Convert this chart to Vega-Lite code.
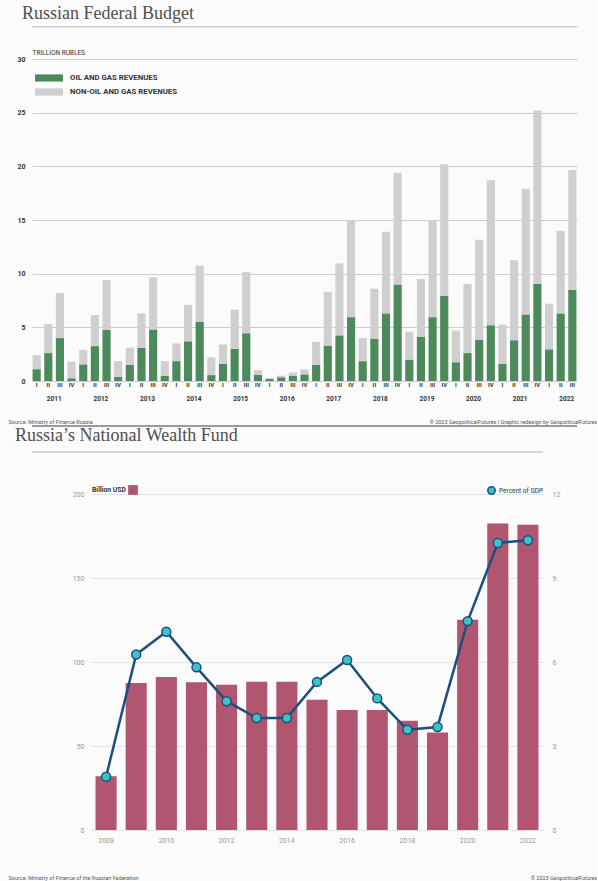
{
  "$schema": "https://vega.github.io/schema/vega-lite/v6.json",
  "background": "#fbfbfb",
  "padding": {"left": 8, "top": 5, "right": 0, "bottom": 0},
  "bounds": "flush",
  "spacing": 113,
  "resolve": {"scale": {"color": "independent", "fill": "independent"}, "legend": {"color": "independent", "fill": "independent"}},
  "config": {
    "view": {"stroke": null},
    "axis": {"labelFont": "Roboto", "titleFont": "Roboto"},
    "legend": {"labelFont": "Roboto", "titleFont": "Roboto"},
    "title": {"font": "Liberation Serif"}
  },
  "vconcat": [
    {
      "width": 545,
      "height": 322,
      "title": {"text": "Russian Federal Budget", "anchor": "start", "frame": "group", "dx": -10, "offset": 3, "fontSize": 18, "fontWeight": "normal", "color": "#4f4f4f"},
      "data": {"values": [
        {"q": "2011-I", "oil": 1.1, "nonoil": 1.3},
        {"q": "2011-II", "oil": 2.6, "nonoil": 2.7},
        {"q": "2011-III", "oil": 4.0, "nonoil": 4.2},
        {"q": "2011-IV", "oil": 0.25, "nonoil": 1.55},
        {"q": "2012-I", "oil": 1.55, "nonoil": 1.35},
        {"q": "2012-II", "oil": 3.25, "nonoil": 2.9},
        {"q": "2012-III", "oil": 4.75, "nonoil": 4.65},
        {"q": "2012-IV", "oil": 0.37, "nonoil": 1.48},
        {"q": "2013-I", "oil": 1.5, "nonoil": 1.6},
        {"q": "2013-II", "oil": 3.1, "nonoil": 3.2},
        {"q": "2013-III", "oil": 4.8, "nonoil": 4.85},
        {"q": "2013-IV", "oil": 0.5, "nonoil": 1.35},
        {"q": "2014-I", "oil": 1.85, "nonoil": 1.65},
        {"q": "2014-II", "oil": 3.7, "nonoil": 3.4},
        {"q": "2014-III", "oil": 5.5, "nonoil": 5.25},
        {"q": "2014-IV", "oil": 0.55, "nonoil": 1.65},
        {"q": "2015-I", "oil": 1.6, "nonoil": 1.8},
        {"q": "2015-II", "oil": 3.0, "nonoil": 3.65},
        {"q": "2015-III", "oil": 4.45, "nonoil": 5.7},
        {"q": "2015-IV", "oil": 0.58, "nonoil": 0.42},
        {"q": "2016-I", "oil": 0.18, "nonoil": 0.1},
        {"q": "2016-II", "oil": 0.35, "nonoil": 0.15},
        {"q": "2016-III", "oil": 0.5, "nonoil": 0.3},
        {"q": "2016-IV", "oil": 0.62, "nonoil": 0.46},
        {"q": "2017-I", "oil": 1.5, "nonoil": 2.15},
        {"q": "2017-II", "oil": 3.3, "nonoil": 5.0},
        {"q": "2017-III", "oil": 4.25, "nonoil": 6.7},
        {"q": "2017-IV", "oil": 5.95, "nonoil": 9.05},
        {"q": "2018-I", "oil": 1.85, "nonoil": 2.15},
        {"q": "2018-II", "oil": 3.95, "nonoil": 4.65},
        {"q": "2018-III", "oil": 6.3, "nonoil": 7.6},
        {"q": "2018-IV", "oil": 9.0, "nonoil": 10.4},
        {"q": "2019-I", "oil": 2.0, "nonoil": 2.6},
        {"q": "2019-II", "oil": 4.1, "nonoil": 5.4},
        {"q": "2019-III", "oil": 5.95, "nonoil": 9.0},
        {"q": "2019-IV", "oil": 7.95, "nonoil": 12.25},
        {"q": "2020-I", "oil": 1.75, "nonoil": 2.95},
        {"q": "2020-II", "oil": 2.6, "nonoil": 6.45},
        {"q": "2020-III", "oil": 3.85, "nonoil": 9.3},
        {"q": "2020-IV", "oil": 5.2, "nonoil": 13.5},
        {"q": "2021-I", "oil": 1.6, "nonoil": 3.65},
        {"q": "2021-II", "oil": 3.8, "nonoil": 7.45},
        {"q": "2021-III", "oil": 6.2, "nonoil": 11.7},
        {"q": "2021-IV", "oil": 9.05, "nonoil": 16.15},
        {"q": "2022-I", "oil": 2.95, "nonoil": 4.25},
        {"q": "2022-II", "oil": 6.3, "nonoil": 7.7},
        {"q": "2022-III", "oil": 8.5, "nonoil": 11.15}
      ]},
      "transform": [{"fold": ["oil", "nonoil"], "as": ["type", "value"]}],
      "layer": [
        {
          "mark": {"type": "bar"},
          "encoding": {
            "x": {
              "field": "q", "type": "nominal", "sort": null,
              "scale": {"paddingInner": 0.3, "paddingOuter": 0.05},
              "axis": {
                "orient": "bottom",
                "title": "Source: Ministry of Finance Russia",
                "labelExpr": "split(datum.value, '-')[1]",
                "labelAngle": 0, "labelFontSize": 6, "labelFontWeight": "bold", "labelColor": "#333333",
                "labelPadding": 0, "labelOverlap": false, "ticks": false, "domain": false, "grid": false,
                "titleX": -24, "titleY": 40, "titleAlign": "left", "titleAnchor": "start", "titleBaseline": "middle",
                "titleFontSize": 5.5, "titleFontWeight": "normal", "titleColor": "#555555"
              }
            },
            "y": {
              "field": "value", "type": "quantitative", "stack": "zero",
              "scale": {"domain": [0, 30], "nice": false},
              "axis": {
                "title": "TRILLION RUBLES", "values": [0, 5, 10, 15, 20, 25, 30],
                "titleAngle": 0, "titleAlign": "left", "titleBaseline": "middle", "titleX": 0, "titleY": -7,
                "titleFontSize": 6.5, "titleFontWeight": "normal", "titleColor": "#333333",
                "labelFontSize": 7, "labelFontWeight": "bold", "labelColor": "#333333", "labelPadding": 7,
                "ticks": false, "domain": false, "grid": true, "gridColor": "#cccccc", "gridWidth": 1
              }
            },
            "color": {
              "field": "type", "type": "nominal",
              "scale": {"domain": ["oil", "nonoil"], "range": ["#4c8a5c", "#cfcfcf"]},
              "legend": {
                "orient": "none", "legendX": 3, "legendY": 15, "title": null, "padding": 0,
                "labelExpr": "datum.value == 'oil' ? 'OIL AND GAS REVENUES' : 'NON-OIL AND GAS REVENUES'",
                "symbolType": "M-1,-0.9H6V0.9H-1Z", "symbolSize": 64, "symbolStrokeWidth": 0,
                "labelOffset": 27, "labelFontSize": 7.8, "labelFontWeight": "bold", "labelColor": "#333333",
                "rowPadding": 6
              }
            },
            "order": {"field": "type", "type": "ordinal", "sort": "descending"}
          }
        },
        {
          "mark": {"type": "rule", "opacity": 0},
          "encoding": {
            "x": {
              "field": "q", "type": "nominal", "sort": null,
              "axis": {
                "orient": "bottom", "offset": 12,
                "labelExpr": "split(datum.value, '-')[1] == 'II' ? split(datum.value, '-')[0] : ''",
                "labelAngle": 0, "labelOffset": 6, "labelPadding": 2, "labelOverlap": false,
                "labelFontSize": 6.5, "labelFontWeight": "bold", "labelColor": "#333333",
                "ticks": false, "domain": false, "grid": false,
                "title": "© 2023 GeopoliticalFutures | Graphic redesign by GeopoliticalFutures",
                "titleX": 565, "titleY": 28, "titleAlign": "right", "titleAnchor": "end", "titleBaseline": "middle",
                "titleFontSize": 5.5, "titleFontWeight": "normal", "titleColor": "#555555"
              }
            }
          }
        },
        {
          "data": {"values": [{}]},
          "mark": {"type": "rule", "color": "#b5b5b5", "strokeWidth": 1},
          "encoding": {"y": {"datum": 33, "type": "quantitative", "scale": {"domain": [0, 30], "nice": false}, "axis": null}}
        },
        {
          "data": {"values": [{}]},
          "mark": {"type": "rule", "color": "#7a7a7a", "strokeWidth": 1.5},
          "encoding": {"y": {"datum": -4.2, "type": "quantitative", "scale": {"domain": [0, 30], "nice": false}, "axis": null}}
        }
      ],
      "resolve": {"scale": {"y": "independent"}, "axis": {"x": "independent"}}
    },
    {
      "resolve": {"scale": {"color": "independent", "fill": "independent"}, "legend": {"color": "independent", "fill": "independent"}},
      "hconcat": [
        {
          "width": 59, "height": 336,
          "data": {"values": [{}]},
          "mark": {"type": "rule", "color": "#b5b5b5", "strokeWidth": 1},
          "encoding": {"y": {"datum": 225, "type": "quantitative", "scale": {"domain": [0, 200], "nice": false}, "axis": null}}
        },
        {
          "width": 452,
          "height": 336,
          "title": {"text": "Russia’s National Wealth Fund", "anchor": "start", "frame": "group", "dx": -76, "offset": 7, "fontSize": 18, "fontWeight": "normal", "color": "#4f4f4f"},
          "data": {"values": [
            {"year": "2008", "usd": 32, "gdp": 1.9},
            {"year": "2009", "usd": 87.5, "gdp": 6.27},
            {"year": "2010", "usd": 91, "gdp": 7.08},
            {"year": "2011", "usd": 88, "gdp": 5.81},
            {"year": "2012", "usd": 86.5, "gdp": 4.6},
            {"year": "2013", "usd": 88.3, "gdp": 4.0},
            {"year": "2014", "usd": 88.3, "gdp": 4.0},
            {"year": "2015", "usd": 77.6, "gdp": 5.29},
            {"year": "2016", "usd": 71.5, "gdp": 6.07},
            {"year": "2017", "usd": 71.5, "gdp": 4.7},
            {"year": "2018", "usd": 65, "gdp": 3.58},
            {"year": "2019", "usd": 58, "gdp": 3.68},
            {"year": "2020", "usd": 125.2, "gdp": 7.46},
            {"year": "2021", "usd": 182.5, "gdp": 10.25},
            {"year": "2022", "usd": 181.7, "gdp": 10.35}
          ]},
          "layer": [
            {
              "mark": {"type": "bar"},
              "encoding": {
                "x": {
                  "field": "year", "type": "ordinal",
                  "scale": {"paddingInner": 0.3, "paddingOuter": 0.15},
                  "axis": {
                    "orient": "bottom",
                    "values": ["2008", "2010", "2012", "2014", "2016", "2018", "2020", "2022"],
                    "labelAngle": 0, "labelFontSize": 7, "labelColor": "#999999", "labelPadding": 6,
                    "ticks": false, "domain": false, "grid": false,
                    "title": "Source: Ministry of Finance of the Russian Federation",
                    "titleX": -83, "titleY": 47, "titleAlign": "left", "titleAnchor": "start", "titleBaseline": "middle",
                    "titleFontSize": 5.5, "titleFontWeight": "normal", "titleColor": "#555555"
                  }
                },
                "y": {
                  "field": "usd", "type": "quantitative",
                  "scale": {"domain": [0, 200], "nice": false},
                  "axis": {
                    "title": null, "values": [0, 50, 100, 150, 200],
                    "labelFontSize": 7, "labelColor": "#999999", "labelPadding": 7,
                    "ticks": false, "domain": false, "grid": true, "gridColor": "#e0e3e7", "gridWidth": 1
                  }
                },
                "color": {
                  "datum": "Billion USD", "type": "nominal",
                  "scale": {"range": ["#b05670"]},
                  "legend": {
                    "orient": "none", "legendX": 1, "legendY": -9, "padding": 0,
                    "title": "Billion USD", "titleOrient": "left", "titleFontSize": 6.8, "titleFontWeight": "bold",
                    "titleColor": "#333333", "titlePadding": 2,
                    "labelExpr": "''", "symbolType": "square", "symbolSize": 95, "symbolStrokeWidth": 0
                  }
                }
              }
            },
            {
              "data": {"values": [{}]},
              "mark": {"type": "rule", "color": "#b5b5b5", "strokeWidth": 1},
              "encoding": {"y": {"datum": 225, "type": "quantitative", "scale": {"domain": [0, 200], "nice": false}, "axis": null}}
            },
            {
              "mark": {"type": "line", "color": "#1b4f7e", "strokeWidth": 2.5},
              "encoding": {
                "x": {
                  "field": "year", "type": "ordinal",
                  "axis": {
                    "orient": "bottom", "labels": false, "ticks": false, "domain": false, "grid": false,
                    "title": "© 2023 GeopoliticalFutures",
                    "titleX": 506, "titleY": 47, "titleAlign": "right", "titleAnchor": "end", "titleBaseline": "middle",
                    "titleFontSize": 5.5, "titleFontWeight": "normal", "titleColor": "#555555"
                  }
                },
                "y": {
                  "field": "gdp", "type": "quantitative",
                  "scale": {"domain": [0, 12], "nice": false},
                  "axis": {
                    "orient": "right", "title": null, "values": [0, 3, 6, 9, 12],
                    "labelFontSize": 7, "labelColor": "#999999", "labelPadding": 9,
                    "ticks": false, "domain": false, "grid": false
                  }
                }
              }
            },
            {
              "mark": {"type": "point", "filled": true, "size": 80, "stroke": "#1b4f7e", "strokeWidth": 1.5, "opacity": 1},
              "encoding": {
                "x": {"field": "year", "type": "ordinal", "axis": null},
                "y": {"field": "gdp", "type": "quantitative", "scale": {"domain": [0, 12], "nice": false}, "axis": null},
                "fill": {
                  "datum": "Percent of GDP", "type": "nominal",
                  "scale": {"range": ["#3cc4c4"]},
                  "legend": {
                    "orient": "none", "legendX": 396, "legendY": -8, "padding": 0, "title": null,
                    "symbolType": "circle", "symbolSize": 55, "symbolStrokeColor": "#1b4f7e", "symbolStrokeWidth": 1.5,
                    "labelFontSize": 6.5, "labelColor": "#333333", "labelOffset": 3
                  }
                }
              }
            }
          ],
          "resolve": {"scale": {"y": "independent"}, "axis": {"x": "independent"}}
        }
      ],
      "spacing": 0,
      "bounds": "flush"
    }
  ]
}
